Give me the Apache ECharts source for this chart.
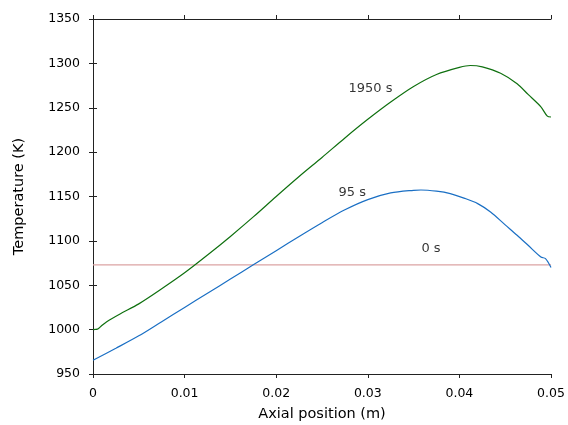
<!DOCTYPE html>
<html>
<head>
<meta charset="utf-8">
<script src="https://cdn.jsdelivr.net/npm/echarts@6/dist/echarts.min.js"></script>
<style>
html,body{margin:0;padding:0;background:#fff;}
#chart{width:568px;height:425px;}
</style>
</head>
<body>
<div id="chart"></div>
<script>
// Data
const xTicks = [0, 0.01, 0.02, 0.03, 0.04, 0.05];
const yTicks = [950, 1000, 1050, 1100, 1150, 1200, 1250, 1300, 1350];

const pos1950 = [0, 0.0005, 0.001, 0.0015, 0.003, 0.005, 0.0075, 0.01, 0.0125, 0.015, 0.0175, 0.02, 0.0225, 0.025, 0.0275, 0.03, 0.0325, 0.035, 0.0375, 0.04, 0.0412, 0.0425, 0.0445, 0.0463, 0.0475, 0.0489, 0.0496, 0.05];
const temp1950 = [1000, 1000.5, 1005, 1009, 1018, 1029, 1046, 1064, 1084, 1105, 1127, 1150, 1172.5, 1194, 1216, 1237, 1256.5, 1274, 1287.5, 1295.5, 1297.6, 1296, 1288.8, 1277, 1265, 1251, 1240.5, 1239.6];

const pos95 = [0, 0.0025, 0.005, 0.0075, 0.01, 0.0125, 0.015, 0.0175, 0.02, 0.0225, 0.025, 0.0275, 0.03, 0.0325, 0.035, 0.0358, 0.0375, 0.039, 0.0405, 0.042, 0.0434, 0.045, 0.0463, 0.0475, 0.0489, 0.0494, 0.05];
const temp95 = [965.4, 979, 993, 1009, 1025, 1041, 1057, 1073, 1089, 1105, 1120.5, 1135, 1146.5, 1154, 1157, 1157.3, 1156, 1153.3, 1148.2, 1142, 1132.5, 1118, 1106.3, 1095, 1081.8, 1080, 1070];

const pos0 = [0, 0.05];
const temp0 = [1073, 1073];

const labelTexts = ['1950 s', '95 s', '0 s'];
const labelPos = [0.0303, 0.0283, 0.0369];
const labelTemp = [1272, 1154.7, 1091.3];

function zip(a, b) { return a.map((v, i) => [v, b[i]]); }

const FONT = 'DejaVu Sans';
const chart = echarts.init(document.getElementById('chart'), null, {renderer: 'canvas'});

const axisLineStyle = {color: '#222', width: 1};
const baseX = {
  type: 'value', min: xTicks[0], max: xTicks[xTicks.length - 1], interval: 0.01,
  axisLine: {show: true, lineStyle: axisLineStyle},
  axisTick: {show: true, inside: false, length: 4, lineStyle: axisLineStyle},
  splitLine: {show: false}
};
const baseY = {
  type: 'value', min: yTicks[0], max: yTicks[yTicks.length - 1], interval: 50,
  axisLine: {show: true, lineStyle: axisLineStyle},
  axisTick: {show: true, inside: false, length: 4, lineStyle: axisLineStyle},
  splitLine: {show: false}
};

chart.setOption({
  animation: false,
  backgroundColor: '#fff',
  grid: {left: 93, right: 17, top: 19, bottom: 51, containLabel: false, outerBoundsMode: 'none'},
  xAxis: [
    Object.assign({}, baseX, {
      position: 'bottom',
      name: 'Axial position (m)', nameLocation: 'middle', nameGap: 33,
      nameTextStyle: {fontFamily: FONT, fontSize: 14.5, color: '#000'},
      axisLabel: {show: true, margin: 13, fontFamily: FONT, fontSize: 12.5, color: '#000',
        formatter: v => (v === 0 ? '0' : String(+v.toFixed(2)))}
    }),
    Object.assign({}, baseX, {position: 'top', axisLabel: {show: false}})
  ],
  yAxis: [
    Object.assign({}, baseY, {
      position: 'left',
      name: 'Temperature (K)', nameLocation: 'middle', nameGap: 66, nameRotate: 90,
      nameTextStyle: {fontFamily: FONT, fontSize: 14.5, color: '#000'},
      axisLabel: {show: true, margin: 13, fontFamily: FONT, fontSize: 12.5, color: '#000',
        formatter: v => String(Math.round(v))}
    }),
    Object.assign({}, baseY, {position: 'right', axisLabel: {show: false}})
  ],
  series: [
    {
      name: '0 s', type: 'line', data: zip(pos0, temp0), showSymbol: false, symbol: 'none',
      lineStyle: {color: '#dba3a3', width: 1.2}, z: 2
    },
    {
      name: '95 s', type: 'line', data: zip(pos95, temp95), showSymbol: false, symbol: 'none',
      smooth: 0.3,
      lineStyle: {color: '#1a6fc4', width: 1.2}, z: 3
    },
    {
      name: '1950 s', type: 'line', data: zip(pos1950, temp1950), showSymbol: false, symbol: 'none',
      smooth: 0.3,
      lineStyle: {color: '#0f700f', width: 1.2}, z: 4
    },
    {
      name: 'labels', type: 'scatter', symbolSize: 0, silent: true,
      data: labelTexts.map((t, i) => ({value: [labelPos[i], labelTemp[i]], name: t})),
      label: {show: true, position: 'inside', formatter: p => p.name,
        fontFamily: FONT, fontSize: 13, color: '#000'}
    }
  ]
});
</script>
</body>
</html>
